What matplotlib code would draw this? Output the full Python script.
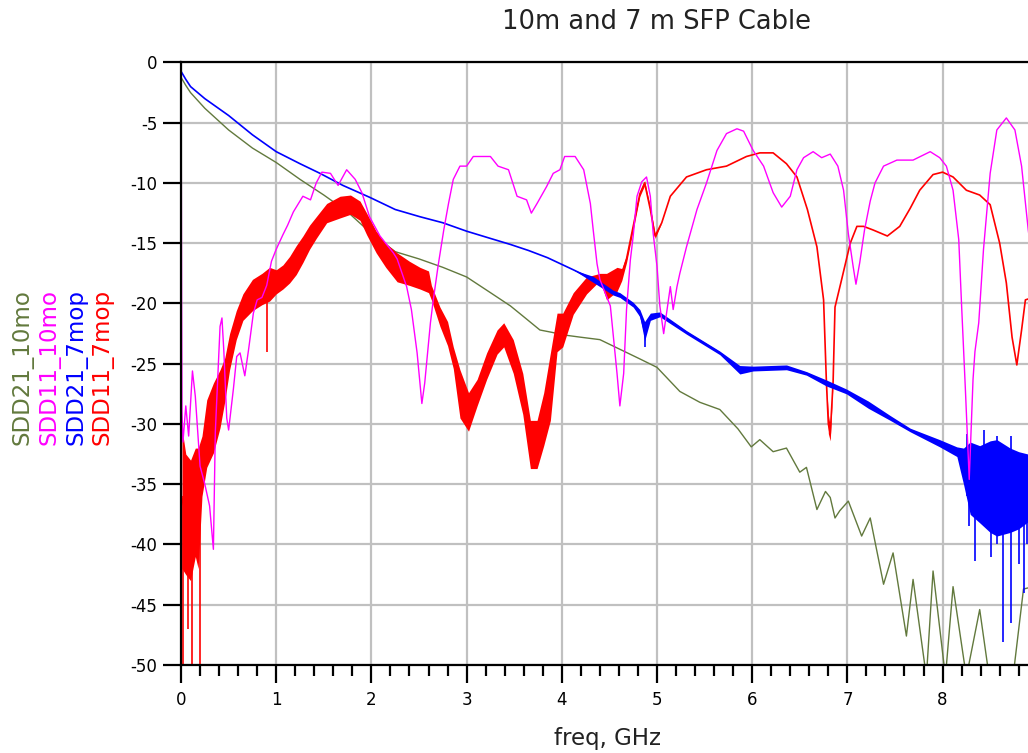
import numpy as np
import matplotlib
matplotlib.use("Agg")
import matplotlib.pyplot as plt
from matplotlib.ticker import MultipleLocator, FuncFormatter

# ---- data (freq in GHz, level in dB) ----

# SDD21_10mo (olive)
sdd21_10_f = [0.005, 0.05, 0.1, 0.25, 0.5, 0.75, 1.0, 1.25, 1.5, 1.75, 2.0, 2.25, 2.5,
              2.75, 3.0, 3.25, 3.46, 3.6, 3.77, 3.9, 4.01, 4.2, 4.4, 4.61, 4.82, 5.0,
              5.24, 5.45, 5.66, 5.85, 5.99, 6.08, 6.22, 6.36, 6.5, 6.57, 6.68, 6.77,
              6.82, 6.87, 6.92, 7.01, 7.15, 7.24, 7.38, 7.48, 7.62, 7.69, 7.83, 7.9,
              8.03, 8.11, 8.25, 8.39, 8.49, 8.62, 8.74, 8.85, 8.95]
sdd21_10_db = [-1.3, -1.9, -2.5, -3.8, -5.6, -7.1, -8.3, -9.7, -11.0, -12.4, -14.2, -15.7,
               -16.3, -17.0, -17.8, -19.1, -20.2, -21.1, -22.2, -22.4, -22.6, -22.8, -23.0,
               -23.8, -24.6, -25.3, -27.3, -28.2, -28.8, -30.4, -31.9, -31.3, -32.3, -32.0,
               -34.0, -33.6, -37.1, -35.6, -36.1, -37.8, -37.2, -36.4, -39.3, -37.8, -43.3,
               -40.7, -47.6, -42.9, -51.0, -42.2, -51.0, -43.5, -51.0, -45.4, -51.0, -52.0,
               -51.0, -43.7, -43.5]

# SDD11_10mo (magenta)
sdd11_10_f = [0.003, 0.006, 0.01, 0.02, 0.05, 0.08, 0.12, 0.15, 0.2, 0.25, 0.3, 0.34, 0.36,
              0.38, 0.41, 0.43, 0.45, 0.48, 0.5, 0.55, 0.585, 0.62, 0.67, 0.71, 0.76, 0.8,
              0.85, 0.9, 0.95, 1.0, 1.07, 1.12, 1.18, 1.28, 1.36, 1.42, 1.48, 1.57, 1.65,
              1.74, 1.83, 1.9, 1.98, 2.09, 2.23, 2.27, 2.37, 2.42, 2.48, 2.51, 2.53, 2.56,
              2.62, 2.65, 2.7, 2.76, 2.81, 2.86, 2.93, 3.0, 3.07, 3.25, 3.33, 3.44, 3.53,
              3.63, 3.68, 3.74, 3.84, 3.91, 3.98, 4.03, 4.14, 4.23, 4.3, 4.33, 4.37, 4.4,
              4.51, 4.58, 4.61, 4.65, 4.68, 4.72, 4.75, 4.79, 4.84, 4.89, 4.93, 4.96, 5.0,
              5.03, 5.07, 5.1, 5.14, 5.17, 5.21, 5.24, 5.31, 5.42, 5.52, 5.63, 5.73, 5.84,
              5.91, 6.01, 6.12, 6.22, 6.31, 6.4, 6.47, 6.54, 6.64, 6.73, 6.82, 6.9, 6.96,
              7.01, 7.06, 7.09, 7.13, 7.18, 7.24, 7.29, 7.38, 7.52, 7.69, 7.87, 7.97, 8.04,
              8.11, 8.17, 8.2, 8.24, 8.28, 8.32, 8.34, 8.38, 8.43, 8.5, 8.57, 8.67, 8.76,
              8.83, 8.9, 8.95]
sdd11_10_db = [-8.7, -20.0, -29.0, -31.5, -28.5, -31.0, -25.6, -27.7, -33.5, -35.0, -36.8,
               -40.4, -30.7, -27.1, -21.9, -21.2, -24.0, -29.5, -30.5, -27.1, -24.4, -24.1,
               -26.0, -23.8, -20.8, -19.7, -19.5, -18.5, -16.5, -15.5, -14.3, -13.5, -12.4,
               -11.1, -11.4, -10.0, -9.1, -9.2, -10.2, -8.9, -9.7, -10.8, -12.8, -14.4,
               -15.8, -16.3, -18.6, -20.5, -24.1, -26.6, -28.3, -26.6, -21.6, -19.7, -16.9,
               -13.9, -11.7, -9.7, -8.6, -8.6, -7.8, -7.8, -8.6, -8.9, -11.1, -11.4, -12.5,
               -11.7, -10.3, -9.2, -8.9, -7.8, -7.8, -8.9, -11.7, -13.9, -16.7, -18.0, -20.2,
               -25.8, -28.5, -25.8, -20.5, -16.4, -14.4, -11.1, -9.9, -9.5, -11.1, -14.2,
               -16.9, -20.2, -22.5, -20.8, -18.6, -20.5, -18.6, -17.5, -15.3, -12.2, -10.0,
               -7.3, -5.9, -5.5, -5.7, -7.3, -8.6, -10.8, -12.0, -11.1, -8.9, -7.9, -7.4,
               -7.9, -7.6, -8.6, -10.6, -14.2, -16.9, -18.4, -16.6, -13.9, -11.5, -10.0,
               -8.6, -8.1, -8.1, -7.4, -7.9, -8.6, -10.6, -14.7, -20.2, -27.2, -34.6, -26.3,
               -24.0, -21.6, -15.5, -9.2, -5.6, -4.6, -5.6, -8.6, -13.9, -17.0]

# SDD21_7mop (blue): centre line and read noise half-width
sdd21_7_f = [0.005, 0.05, 0.1, 0.25, 0.5, 0.75, 1.0, 1.25, 1.46, 1.7, 1.985, 2.25, 2.51,
             2.75, 3.0, 3.25, 3.46, 3.65, 3.85, 4.12, 4.33, 4.54, 4.61, 4.75, 4.82, 4.87,
             4.93, 5.03, 5.31, 5.66, 5.87, 6.01, 6.36, 6.57, 6.78, 6.99, 7.22, 7.45, 7.66,
             7.97, 8.15, 8.22, 8.29, 8.39, 8.5, 8.57, 8.71, 8.8, 8.9, 8.95]
sdd21_7_db = [-0.8, -1.4, -2.0, -3.0, -4.4, -6.0, -7.4, -8.4, -9.2, -10.2, -11.2, -12.2,
              -12.8, -13.3, -14.0, -14.6, -15.1, -15.6, -16.2, -17.2, -18.0, -19.1, -19.3,
              -20.1, -20.8, -22.3, -21.1, -20.9, -22.4, -24.1, -25.5, -25.4, -25.3, -25.8,
              -26.6, -27.3, -28.4, -29.5, -30.5, -31.6, -32.3, -33.5, -34.5, -35.0, -35.2,
              -35.3, -35.5, -35.5, -35.3, -35.3]
sdd21_7_noise = [0, 0, 0, 0, 0, 0, 0, 0, 0, 0, 0, 0, 0, 0, 0, 0, 0, 0, 0, 0, 0.25, 0.2,
                 0.2, 0.2, 0.3, 0.8, 0.3, 0.2, 0.15, 0.15, 0.35, 0.2, 0.2, 0.15, 0.25, 0.2,
                 0.3, 0.2, 0.15, 0.3, 0.4, 1.5, 3.0, 3.2, 3.8, 4.0, 3.5, 3.2, 2.8, 2.8]
# deep spikes in the blue trace: (freq, top, bottom)
sdd21_7_spikes = [(4.87, -21.5, -23.6), (8.26, -30.8, -36.0), (8.28, -33.0, -38.5),
                  (8.34, -33.0, -41.4), (8.43, -30.5, -38.5), (8.51, -33.0, -41.0),
                  (8.57, -31.0, -40.0), (8.64, -33.0, -48.1), (8.72, -31.0, -46.5),
                  (8.8, -33.0, -41.6), (8.86, -33.0, -44.0), (8.89, -33.0, -40.0)]

# SDD11_7mop (red): centre line and read noise half-width
sdd11_7_f = [0.01, 0.05, 0.1, 0.15, 0.18, 0.22, 0.27, 0.34, 0.41, 0.46, 0.51, 0.58, 0.65,
             0.75, 0.85, 0.93, 1.0, 1.07, 1.14, 1.21, 1.28, 1.35, 1.42, 1.53, 1.67, 1.78,
             1.88, 1.95, 2.05, 2.15, 2.27, 2.4, 2.51, 2.6, 2.63, 2.72, 2.8, 2.86, 2.93,
             3.02, 3.11, 3.21, 3.32, 3.39, 3.49, 3.59, 3.67, 3.74, 3.81, 3.88, 3.95, 4.01,
             4.12, 4.26, 4.4, 4.47, 4.58, 4.63, 4.68, 4.75, 4.82, 4.87, 4.93, 4.98, 5.05,
             5.14, 5.31, 5.52, 5.73, 5.94, 6.08, 6.22, 6.36, 6.47, 6.58, 6.68, 6.75, 6.78,
             6.8, 6.82, 6.85, 6.87, 6.94, 7.03, 7.1, 7.17, 7.27, 7.42, 7.55, 7.66, 7.76,
             7.9, 8.0, 8.11, 8.25, 8.39, 8.5, 8.6, 8.67, 8.73, 8.78, 8.83, 8.87, 8.95]
sdd11_7_db = [-36.2, -37.5, -38.0, -36.5, -37.0, -33.5, -30.8, -29.5, -27.9, -26.3, -24.0,
              -21.8, -20.3, -19.3, -18.8, -18.4, -18.2, -17.8, -17.2, -16.4, -15.5, -14.5,
              -13.7, -12.5, -12.0, -11.8, -12.3, -13.4, -14.9, -16.0, -17.0, -17.5, -17.9,
              -18.2, -19.1, -21.1, -22.5, -24.5, -27.5, -29.0, -27.4, -25.2, -23.2, -22.6,
              -24.4, -27.5, -31.7, -31.7, -29.6, -26.9, -22.4, -22.2, -20.0, -18.5, -17.8,
              -18.6, -18.0, -17.6, -16.3, -13.6, -10.9, -10.0, -12.2, -14.4, -13.3, -11.1,
              -9.5, -8.9, -8.6, -7.8, -7.5, -7.5, -8.4, -9.5, -12.2, -15.3, -19.7, -26.6,
              -30.0, -30.8, -26.5, -20.3, -18.0, -15.0, -13.6, -13.6, -13.9, -14.4, -13.6,
              -12.1, -10.6, -9.3, -9.1, -9.5, -10.6, -11.0, -11.8, -15.0, -18.3, -22.8,
              -25.1, -22.2, -19.7, -19.5]
sdd11_7_noise = [5.8, 5.0, 5.0, 4.5, 5.0, 2.5, 2.8, 2.9, 2.4, 1.8, 1.5, 1.2, 1.1, 1.3, 1.3,
                 1.4, 1.0, 1.0, 1.1, 1.2, 1.1, 1.0, 0.9, 0.8, 0.9, 0.8, 0.8, 0.9, 0.9, 1.0,
                 1.2, 1.0, 0.9, 0.9, 0.6, 0.8, 1.0, 0.9, 2.0, 1.6, 1.1, 1.1, 1.0, 1.0, 1.4,
                 1.7, 2.0, 2.0, 2.2, 2.8, 1.6, 1.4, 0.9, 0.7, 0.3, 1.1, 1.0, 0.5, 0.3, 0.3,
                 0.2, 0.2, 0.2, 0.2, 0, 0, 0, 0, 0, 0, 0, 0, 0, 0, 0, 0, 0, 0, 0.8, 0.6, 0,
                 0, 0, 0, 0, 0, 0, 0, 0, 0, 0, 0, 0, 0, 0, 0, 0, 0, 0, 0, 0, 0, 0, 0]
sdd11_7_spikes = [(0.02, -36.0, -50.5), (0.07, -38.0, -47.0), (0.12, -38.0, -50.5),
                  (0.2, -35.0, -50.5), (0.9, -19.0, -24.0)]

legend_labels = ["SDD21_10mo", "SDD11_10mo", "SDD21_7mop", "SDD11_7mop"]
c_olive, c_mag, c_blue, c_red = "#62793d", "#ff00ff", "#0000ff", "#ff0000"

plt.rcParams["font.family"] = ["DejaVu Sans"]
plt.rcParams["axes.unicode_minus"] = False

fig = plt.figure(figsize=(10.28, 7.53), dpi=100)
# the axes run on to 10 GHz; the picture is cut at ~8.9 GHz
ax = fig.add_axes([0.1761, 0.1169, 0.926, 0.8001])

ax.plot(sdd21_10_f, sdd21_10_db, color=c_olive, lw=1.0, zorder=3)

f = np.array(sdd11_7_f); y = np.array(sdd11_7_db); n = np.array(sdd11_7_noise)
ax.fill_between(f, y - n, y + n, color=c_red, lw=0, zorder=4)
ax.plot(f, y, color=c_red, lw=1.2, zorder=4)
for xs, top, bot in sdd11_7_spikes:
    ax.vlines(xs, bot, top, color=c_red, lw=1.2, zorder=4)

f = np.array(sdd21_7_f); y = np.array(sdd21_7_db); n = np.array(sdd21_7_noise)
ax.fill_between(f, y - n, y + n, color=c_blue, lw=0, zorder=5)
ax.plot(f, y, color=c_blue, lw=1.2, zorder=5)
for xs, top, bot in sdd21_7_spikes:
    ax.vlines(xs, bot, top, color=c_blue, lw=1.2, zorder=5)

ax.plot(sdd11_10_f, sdd11_10_db, color=c_mag, lw=1.0, zorder=6)

ax.set_xlim(0, 10)
ax.set_ylim(-50, 0)
ax.xaxis.set_major_locator(MultipleLocator(1))
ax.xaxis.set_minor_locator(MultipleLocator(0.2))
ax.yaxis.set_major_locator(MultipleLocator(5))
ax.yaxis.set_major_formatter(FuncFormatter(lambda v, p: "%d" % v))
# labels past the cut edge of the picture are not shown
ax.xaxis.set_major_formatter(FuncFormatter(lambda v, p: "%d" % v if v < 8.5 else ""))
ax.grid(True, which="major", color="#c0c0c0", lw=1.6, zorder=0)
ax.set_axisbelow(True)
for s in ax.spines.values():
    s.set_linewidth(1.6)
    s.set_zorder(7)
ax.tick_params(axis="both", which="major", direction="out", length=13, width=1.6,
               labelsize=12, pad=4)
ax.tick_params(axis="x", which="major", pad=6)
ax.tick_params(axis="x", which="minor", direction="out", length=8, width=1.6)
ax.tick_params(axis="y", which="minor", left=False)

fig.text(656 / 1028, 1 - 22 / 753, "10m and 7 m SFP Cable", ha="center", va="center",
         fontsize=18.5, color="#222222")
fig.text(607 / 1028, 1 - 738 / 753, "freq, GHz", ha="center", va="center",
         fontsize=16.5, color="#222222")

for xpix, lab, col in zip([22, 49, 76, 102], legend_labels,
                          [c_olive, c_mag, c_blue, c_red]):
    fig.text(xpix / 1028, 1 - 445 / 753, lab, rotation=90, ha="center", va="bottom",
             fontsize=16.5, color=col)

fig.savefig("out.png", dpi=100)
